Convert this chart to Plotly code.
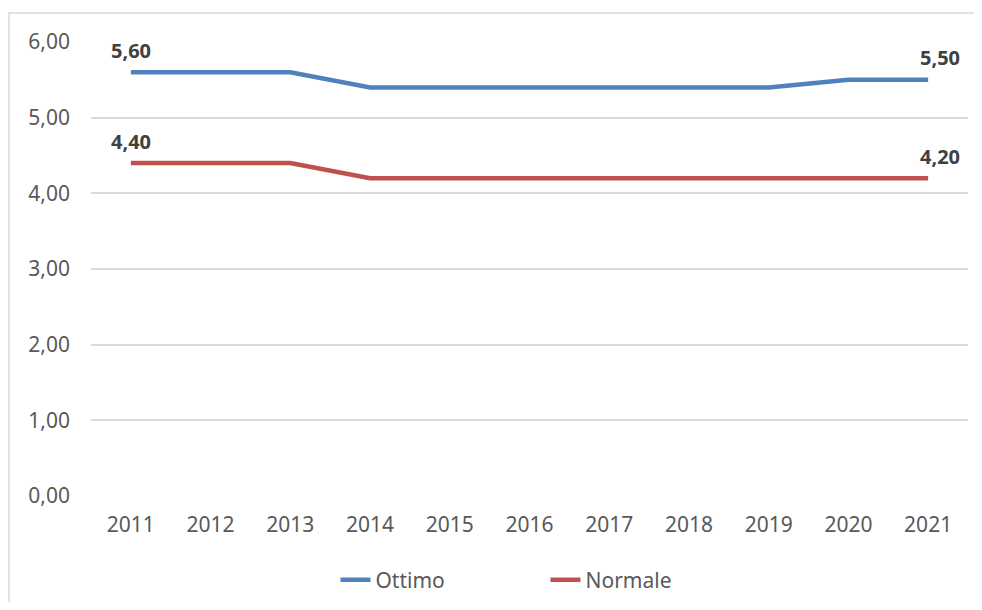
import plotly.graph_objects as go

anni = ["2011", "2012", "2013", "2014", "2015", "2016", "2017", "2018", "2019", "2020", "2021"]
ottimo = [5.6, 5.6, 5.6, 5.4, 5.4, 5.4, 5.4, 5.4, 5.4, 5.5, 5.5]
normale = [4.4, 4.4, 4.4, 4.2, 4.2, 4.2, 4.2, 4.2, 4.2, 4.2, 4.2]
y_ticks = [0, 1, 2, 3, 4, 5, 6]

FONT = "Noto Sans"
fig = go.Figure()
fig.add_trace(go.Scatter(x=anni, y=ottimo, name="Ottimo", mode="lines",
                         line=dict(color="#4F81BD", width=4.5)))
fig.add_trace(go.Scatter(x=anni, y=normale, name="Normale", mode="lines",
                         line=dict(color="#C0504D", width=4.5)))

# etichette solo sul primo e sull'ultimo punto (x = indice categoria)
for serie in (ottimo, normale):
    for i, dx in ((0, 0), (len(anni) - 1, 12)):
        fig.add_annotation(x=i, y=serie[i], xref="x", yref="y",
                           text="<b>" + f"{serie[i]:.2f}".replace(".", ",") + "</b>",
                           showarrow=False, yanchor="middle", yshift=22, xshift=dx,
                           font=dict(family=FONT, size=20, color="#404040"))

# cornice grigia dell'area grafico
fig.add_shape(type="rect", xref="paper", yref="paper",
              x0=-0.0935, x1=1.2, y0=-0.5, y1=1.064,
              line=dict(color="#D9D9D9", width=1.5), layer="below")

# la pagina ha 8px di margine: la figura e' spostata di conseguenza
fig.update_layout(
    width=966, height=594,
    margin=dict(l=83, r=6, t=34, b=106, autoexpand=False),
    paper_bgcolor="white", plot_bgcolor="white",
    separators=",.",
    font=dict(family=FONT, size=21, color="#595959"),
    showlegend=True,
    legend=dict(orientation="h", xref="container", yref="container",
                x=0.339, xanchor="left", y=0.037, yanchor="middle",
                font=dict(size=21, color="#595959"), entrywidth=165),
    xaxis=dict(type="category", range=[-0.5, 10.5], showgrid=False, showline=False,
               ticks="", ticklabelstandoff=14, automargin=False),
    yaxis=dict(range=[0, 6], tickvals=y_ticks, tickformat=".2f", showgrid=True,
               gridcolor="#D9D9D9", gridwidth=1.5, zeroline=False, showline=False,
               ticks="", ticklabelstandoff=20, automargin=False),
)

fig.write_html("out.html")
